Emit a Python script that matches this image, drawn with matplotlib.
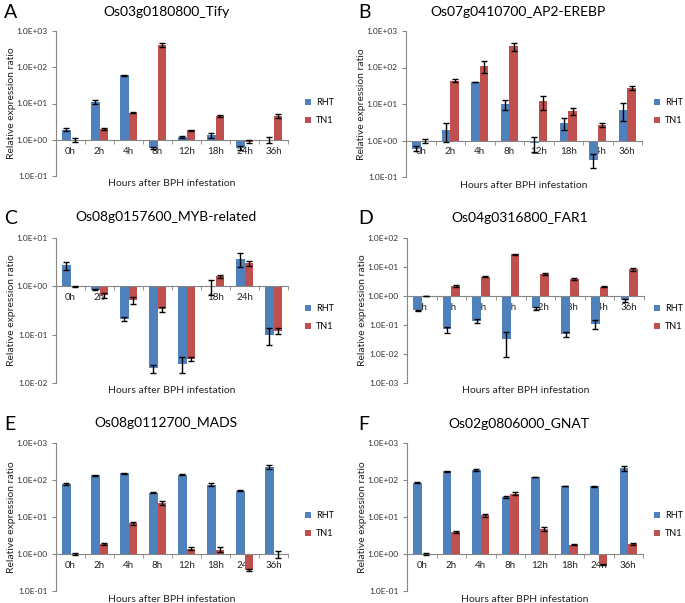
import matplotlib
matplotlib.use('Agg')
import matplotlib.pyplot as plt
import numpy as np
from matplotlib.ticker import FixedLocator, FuncFormatter, NullLocator

plt.rcParams['font.family'] = ['Lato', 'DejaVu Sans']

hours = ['0h', '2h', '4h', '8h', '12h', '18h', '24h', '36h']

# A - Os03g0180800_Tify
a_rht = [1.9, 11, 60, 0.6, 1.2, 1.35, 0.6, 1.0]
a_rht_err = [0.15, 1.2, 2, 0.04, 0.1, 0.2, 0.08, 0.2]
a_tn1 = [0.97, 2.0, 5.5, 420, 1.8, 4.6, 0.88, 4.5]
a_tn1_err = [0.12, 0.1, 0.2, 60, 0.1, 0.3, 0.08, 0.5]

# B - Os07g0410700_AP2-EREBP
b_rht = [0.6, 2.0, 40, 10, 0.88, 3.0, 0.3, 7.0]
b_rht_err = [0.1, 1.1, 1, 3, 0.4, 1.1, 0.12, 3.5]
b_tn1 = [1.0, 43, 110, 380, 12, 6.5, 2.7, 28]
b_tn1_err = [0.12, 4, 40, 100, 5, 1.5, 0.4, 4]

# C - Os08g0157600_MYB-related
c_rht = [2.7, 0.85, 0.21, 0.02, 0.025, 1.0, 3.7, 0.10]
c_rht_err = [0.5, 0.03, 0.02, 0.004, 0.009, 0.35, 1.2, 0.04]
c_tn1 = [1.0, 0.65, 0.52, 0.34, 0.032, 1.6, 3.0, 0.12]
c_tn1_err = [0.03, 0.08, 0.08, 0.04, 0.003, 0.1, 0.4, 0.015]

# D - Os04g0316800_FAR1
d_rht = [0.32, 0.07, 0.14, 0.033, 0.38, 0.048, 0.11, 0.7]
d_rht_err = [0.02, 0.015, 0.025, 0.025, 0.05, 0.01, 0.035, 0.1]
d_tn1 = [1.0, 2.2, 4.7, 27, 5.8, 3.9, 2.1, 8.5]
d_tn1_err = [0.03, 0.2, 0.2, 1, 0.3, 0.2, 0.1, 1]

# E - Os08g0112700_MADS
e_rht = [78, 135, 150, 45, 140, 75, 52, 230]
e_rht_err = [3, 3, 5, 1, 4, 6, 2, 30]
e_tn1 = [1.0, 1.9, 6.8, 24, 1.4, 1.3, 0.37, 1.0]
e_tn1_err = [0.05, 0.1, 0.6, 3, 0.1, 0.2, 0.03, 0.2]

# F - Os02g0806000_GNAT
f_rht = [85, 170, 185, 35, 120, 70, 68, 210]
f_rht_err = [2, 8, 8, 2, 3, 1, 2, 30]
f_tn1 = [1.0, 4.0, 11, 43, 4.8, 1.8, 0.52, 1.85]
f_tn1_err = [0.05, 0.2, 1.2, 4, 0.6, 0.1, 0.02, 0.1]

blue = '#4F81BD'
red = '#C0504D'
grey = '#868686'

W, H = 685, 603

# letter, title, data, y decades, axes box in pixels (left, right, top, bottom), title y, legend (x, y)
panels = [
    ('A', 'Os03g0180800_Tify', a_rht, a_rht_err, a_tn1, a_tn1_err, (-1, 3), (56, 288, 31, 176), 12, (305, 111.5)),
    ('B', 'Os07g0410700_AP2-EREBP', b_rht, b_rht_err, b_tn1, b_tn1_err, (-1, 3), (406, 642, 31, 177), 12, (654, 111.5)),
    ('C', 'Os08g0157600_MYB-related', c_rht, c_rht_err, c_tn1, c_tn1_err, (-2, 1), (56, 288, 238, 383), 217, (305, 317.5)),
    ('D', 'Os04g0316800_FAR1', d_rht, d_rht_err, d_tn1, d_tn1_err, (-3, 2), (407, 644, 238, 383), 218, (654, 317.5)),
    ('E', 'Os08g0112700_MADS', e_rht, e_rht_err, e_tn1, e_tn1_err, (-1, 3), (56, 288, 443, 591), 423, (305, 524.5)),
    ('F', 'Os02g0806000_GNAT', f_rht, f_rht_err, f_tn1, f_tn1_err, (-1, 3), (407, 643, 443, 591), 424, (654, 524.5)),
]

fig = plt.figure(figsize=(W / 100, H / 100), dpi=100)

x = np.arange(len(hours))
w = 0.29

for letter, title, rht, rht_err, tn1, tn1_err, (lo, hi), (l, r, t, b), ty, (lgx, lgy) in panels:
    ax = fig.add_axes([l / W, 1 - b / H, (r - l) / W, (b - t) / H])
    ax.set_yscale('log')
    for off, vals, errs, col, lab in [(-w / 2, rht, rht_err, blue, 'RHT'),
                                      (w / 2, tn1, tn1_err, red, 'TN1')]:
        vals = np.array(vals)
        errs = np.array(errs)
        ax.bar(x + off, vals - 1, bottom=1, width=w, color=col, label=lab, zorder=2)
        low = np.minimum(errs, vals * 0.9)
        ax.errorbar(x + off, vals, yerr=[low, errs], fmt='none', ecolor='black',
                    elinewidth=1, capsize=2.2, capthick=1, zorder=3)

    ax.set_ylim(10.0 ** lo, 10.0 ** hi)
    ax.yaxis.set_major_locator(FixedLocator(10.0 ** np.arange(lo, hi + 1)))
    ax.yaxis.set_minor_locator(NullLocator())
    ax.yaxis.set_major_formatter(FuncFormatter(lambda v, p: '%.1E' % v))
    ax.tick_params(axis='y', labelsize=6, length=3, color=grey, labelcolor='#333333', pad=3)

    ax.set_xlim(-0.5, 7.5)
    ax.spines['bottom'].set_position(('data', 1))
    ax.set_xticks(x)
    ax.set_xticklabels(hours)
    ax.set_xticks(np.arange(-0.5, 8, 1), minor=True)
    ax.tick_params(axis='x', which='major', length=0, labelsize=7, pad=5, labelcolor='#222222')
    ax.tick_params(axis='x', which='minor', length=3, color=grey)
    for s in ['top', 'right']:
        ax.spines[s].set_visible(False)
    for s in ['left', 'bottom']:
        ax.spines[s].set_color(grey)
        ax.spines[s].set_linewidth(0.8)

    ax.set_ylabel('Relative expression ratio', fontsize=7.5, color='#222222')
    ax.yaxis.set_label_coords(-40 / (r - l), 0.5)
    ax.text(0.5, -0.055, 'Hours after BPH infestation', transform=ax.transAxes,
            ha='center', va='center', fontsize=7.5, color='#222222')
    ax.legend(loc='center left', bbox_to_anchor=(lgx / W, 1 - lgy / H), bbox_transform=fig.transFigure,
              frameon=False, fontsize=6.5, handlelength=0.7, handleheight=0.7, handletextpad=0.5,
              labelspacing=1.0, borderaxespad=0, borderpad=0)

    fig.text(((l + r) / 2 - 6) / W, 1 - ty / H, title, ha='center', va='center', fontsize=10)
    lx = 4 if l < 300 else 358
    fig.text(lx / W, 1 - (ty + 1) / H, letter, ha='left', va='center', fontsize=14)

fig.savefig('out.png', dpi=100)
